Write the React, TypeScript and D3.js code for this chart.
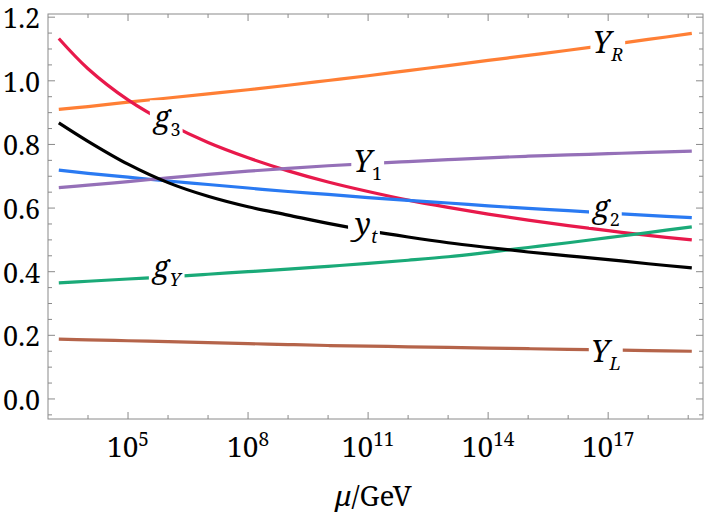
import { useRef, useEffect } from 'react';
import * as d3 from 'd3';

// log10(mu/GeV) sample points
const LOG_MU = [3.27, 4, 5, 6, 7, 8, 9, 10, 11, 12, 13, 14, 15, 16, 17, 18, 19.09];

const YR = [0.910, 0.919, 0.933, 0.946, 0.959, 0.972, 0.986, 1.001, 1.016, 1.032, 1.048, 1.064, 1.080, 1.096, 1.113, 1.130, 1.149];
const G3 = [1.133, 1.038, 0.940, 0.866, 0.806, 0.758, 0.717, 0.682, 0.652, 0.625, 0.602, 0.581, 0.562, 0.545, 0.529, 0.514, 0.500];
const G2 = [0.719, 0.709, 0.697, 0.685, 0.674, 0.663, 0.652, 0.643, 0.633, 0.624, 0.616, 0.607, 0.599, 0.592, 0.584, 0.577, 0.570];
const GY = [0.365, 0.370, 0.377, 0.384, 0.392, 0.400, 0.408, 0.417, 0.426, 0.436, 0.447, 0.461, 0.476, 0.491, 0.507, 0.523, 0.541];
const Y1 = [0.664, 0.672, 0.683, 0.695, 0.706, 0.716, 0.725, 0.733, 0.740, 0.746, 0.752, 0.758, 0.763, 0.767, 0.771, 0.775, 0.779];
const YT = [0.868, 0.810, 0.738, 0.680, 0.637, 0.604, 0.578, 0.552, 0.529, 0.509, 0.491, 0.476, 0.462, 0.450, 0.438, 0.425, 0.412];
const YL = [0.188, 0.186, 0.183, 0.180, 0.177, 0.174, 0.171, 0.168, 0.166, 0.164, 0.162, 0.160, 0.158, 0.156, 0.154, 0.152, 0.150];

const X_MAJOR = [5, 8, 11, 14, 17];
const X_MINOR = d3.range(4, 20);
const Y_MAJOR = [0, 0.2, 0.4, 0.6, 0.8, 1.0, 1.2];
const Y_MINOR = d3.range(-0.05, 1.21, 0.05);

// label: [main, sub, subItalic, log10 mu, value at baseline]
const LABELS: [string, string, boolean, number, number][] = [
  ['Y', 'R', true, 16.99, 1.087],
  ['g', '3', false, 5.98, 0.851],
  ['Y', '1', false, 10.99, 0.713],
  ['g', '2', false, 16.955, 0.569],
  ['y', 't', true, 10.955, 0.515],
  ['g', 'Y', true, 5.97, 0.380],
  ['Y', 'L', true, 16.94, 0.116],
];

const SERIES = [
  { name: 'YR', values: YR, color: '#ff7f35' },
  { name: 'g3', values: G3, color: '#e8194b' },
  { name: 'g2', values: G2, color: '#2a7af2' },
  { name: 'gY', values: GY, color: '#1aaa78' },
  { name: 'Y1', values: Y1, color: '#9570b8' },
  { name: 'yt', values: YT, color: '#000000' },
  { name: 'YL', values: YL, color: '#b5644a' },
];

const W = 706;
const H = 519;
const FONT = '"Noto Serif", "Liberation Serif", serif';

export default function App() {
  const svgRef = useRef<SVGSVGElement>(null);

  useEffect(() => {
    const svg = d3.select(svgRef.current);
    svg.selectAll('*').remove();

    const left = 48, right = 703, top = 14, bottom = 419;
    const x = d3.scaleLog().domain([1e3, Math.pow(10, 19.37)]).range([left, right]);
    const y = d3.scaleLinear().domain([-0.063, 1.21]).range([bottom, top]);
    const frameColor = '#8a8a8a';

    const line = d3.line<[number, number]>()
      .x(d => x(Math.pow(10, d[0])))
      .y(d => y(d[1]))
      .curve(d3.curveCatmullRom.alpha(0.5));

    SERIES.forEach(s => {
      svg.append('path')
        .attr('d', line(LOG_MU.map((l, i) => [l, s.values[i]] as [number, number])))
        .attr('fill', 'none')
        .attr('stroke', s.color)
        .attr('stroke-width', 3.2);
    });

    // curve labels with white gaps
    LABELS.forEach(([main, sub, subItalic, l, v]) => {
      const g = svg.append('g');
      const t = g.append('text')
        .attr('x', x(Math.pow(10, l)))
        .attr('y', y(v))
        .attr('text-anchor', 'middle')
        .style('font-family', FONT)
        .attr('fill', '#000');
      t.append('tspan').attr('font-style', 'italic').attr('font-size', 30).text(main);
      t.append('tspan')
        .attr('font-style', subItalic ? 'italic' : 'normal')
        .attr('font-size', 18)
        .attr('dy', 8)
        .text(sub);
      const bb = (t.node() as SVGTextElement).getBBox();
      g.insert('rect', 'text')
        .attr('x', bb.x - 2)
        .attr('y', bb.y + 4)
        .attr('width', bb.width + 4)
        .attr('height', bb.height - 8)
        .attr('fill', '#fff');
    });

    // frame
    svg.append('rect')
      .attr('x', left).attr('y', top)
      .attr('width', right - left).attr('height', bottom - top)
      .attr('fill', 'none').attr('stroke', frameColor).attr('stroke-width', 1);

    const ticks = svg.append('g').attr('stroke', frameColor).attr('stroke-width', 1);
    X_MINOR.forEach(e => {
      const px = x(Math.pow(10, e));
      const len = X_MAJOR.includes(e) ? 7 : 4;
      ticks.append('line').attr('x1', px).attr('x2', px).attr('y1', bottom).attr('y2', bottom - len);
      ticks.append('line').attr('x1', px).attr('x2', px).attr('y1', top).attr('y2', top + len);
    });
    Y_MINOR.forEach(v => {
      const py = y(v);
      const major = Y_MAJOR.some(m => Math.abs(m - v) < 1e-6);
      const len = major ? 7 : 4;
      ticks.append('line').attr('x1', left).attr('x2', left + len).attr('y1', py).attr('y2', py);
      ticks.append('line').attr('x1', right).attr('x2', right - len).attr('y1', py).attr('y2', py);
    });

    // y tick labels
    Y_MAJOR.forEach(v => {
      svg.append('text')
        .attr('x', 40)
        .attr('y', y(v) + 11)
        .attr('text-anchor', 'end')
        .style('font-family', FONT)
        .attr('font-size', 27)
        .text(v.toFixed(1));
    });

    // x tick labels
    X_MAJOR.forEach(e => {
      const t = svg.append('text')
        .attr('x', x(Math.pow(10, e)))
        .attr('y', 457)
        .attr('text-anchor', 'middle')
        .style('font-family', FONT)
        .attr('font-size', 28);
      t.append('tspan').text('10');
      t.append('tspan').attr('font-size', 19).attr('dy', -11).text(String(e));
    });

    // axis label
    const xl = svg.append('text')
      .attr('x', (left + right) / 2 - 2)
      .attr('y', 506)
      .attr('text-anchor', 'middle')
      .style('font-family', FONT)
      .attr('font-size', 28);
    xl.append('tspan').attr('font-style', 'italic').text('μ');
    xl.append('tspan').text('/GeV');
  }, []);

  return (
    <svg
      ref={svgRef}
      width={W}
      height={H}
      style={{ position: 'absolute', left: 0, top: 0, background: '#fff' }}
    />
  );
}
